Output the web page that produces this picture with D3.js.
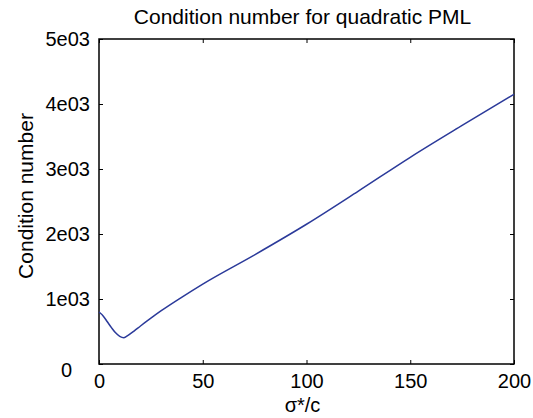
<!DOCTYPE html>
<html>
<head>
<meta charset="utf-8">
<script src="https://cdn.jsdelivr.net/npm/d3@7"></script>
<style>
  body { margin: 0; background: #fff; }
  svg text { font-family: "Liberation Sans", Arial, sans-serif; fill: #000; }
</style>
</head>
<body>
<div id="chart"></div>
<script>
// condition number vs sigma*/c
var sigma = [0, 2, 4, 6, 8, 10, 12, 14, 17, 20, 25, 30, 40, 50, 75, 100, 125, 150, 175, 200];
var cond  = [800, 740, 650, 560, 480, 425, 405, 440, 510, 585, 705, 820, 1030, 1230, 1680, 2150, 2660, 3180, 3670, 4150];
var xTicks = [0, 50, 100, 150, 200];
var yTicks = [0, 1000, 2000, 3000, 4000, 5000];
var yTickLabels = ["0", "1e03", "2e03", "3e03", "4e03", "5e03"];

var w = 533,
    h = 418,
    m = [39, 19, 54, 99]; // top right bottom left

var x = d3.scaleLinear().domain([0, 200]).range([m[3], w - m[1]]);
var y = d3.scaleLinear().domain([0, 5000]).range([h - m[2], m[0]]);

var svg = d3.select("#chart").append("svg")
    .attr("width", w)
    .attr("height", h);

// box
svg.append("rect")
    .attr("x", x(0))
    .attr("y", y(5000))
    .attr("width", x(200) - x(0))
    .attr("height", y(0) - y(5000))
    .attr("fill", "none")
    .attr("stroke", "#000")
    .attr("stroke-width", 1.5);

var xAxis = svg.append("g")
    .attr("transform", "translate(0," + y(0) + ")")
    .call(d3.axisBottom(x).tickValues(xTicks).tickSize(-4).tickPadding(10).tickFormat(d3.format("d")));

var xAxisTop = svg.append("g")
    .attr("transform", "translate(0," + y(5000) + ")")
    .call(d3.axisTop(x).tickValues(xTicks).tickSize(-4).tickFormat(""));

var yAxis = svg.append("g")
    .attr("transform", "translate(" + x(0) + ",0)")
    .call(d3.axisLeft(y).tickValues(yTicks).tickSize(-4).tickPadding(9)
      .tickFormat(function(d, i) { return yTickLabels[i]; }));

var yAxisRight = svg.append("g")
    .attr("transform", "translate(" + x(200) + ",0)")
    .call(d3.axisRight(y).tickValues(yTicks).tickSize(-4).tickFormat(""));

svg.selectAll(".domain").remove();
svg.selectAll(".tick line").attr("stroke", "#000").attr("stroke-width", 1);
svg.selectAll(".tick text").attr("font-size", 20).attr("font-family", null);

// the "0" label sits lower and further left in the original
yAxis.selectAll(".tick text").filter(function(d) { return d === 0; })
    .attr("dy", "0.6em")
    .attr("x", -27);

svg.append("path")
    .datum(d3.zip(sigma, cond))
    .attr("fill", "none")
    .attr("stroke", "#2b3a9a")
    .attr("stroke-width", 1.5)
    .attr("d", d3.line()
      .x(function(d) { return x(d[0]); })
      .y(function(d) { return y(d[1]); })
      .curve(d3.curveMonotoneX));

svg.append("text")
    .attr("x", (x(0) + x(200)) / 2 - 4)
    .attr("y", 24)
    .attr("text-anchor", "middle")
    .attr("font-size", 21)
    .text("Condition number for quadratic PML");

svg.append("text")
    .attr("x", (x(0) + x(200)) / 2 - 4)
    .attr("y", 412)
    .attr("text-anchor", "middle")
    .attr("font-size", 20)
    .text("σ*/c");

svg.append("text")
    .attr("transform", "translate(33,196) rotate(-90)")
    .attr("text-anchor", "middle")
    .attr("font-size", 21)
    .text("Condition number");
</script>
</body>
</html>
